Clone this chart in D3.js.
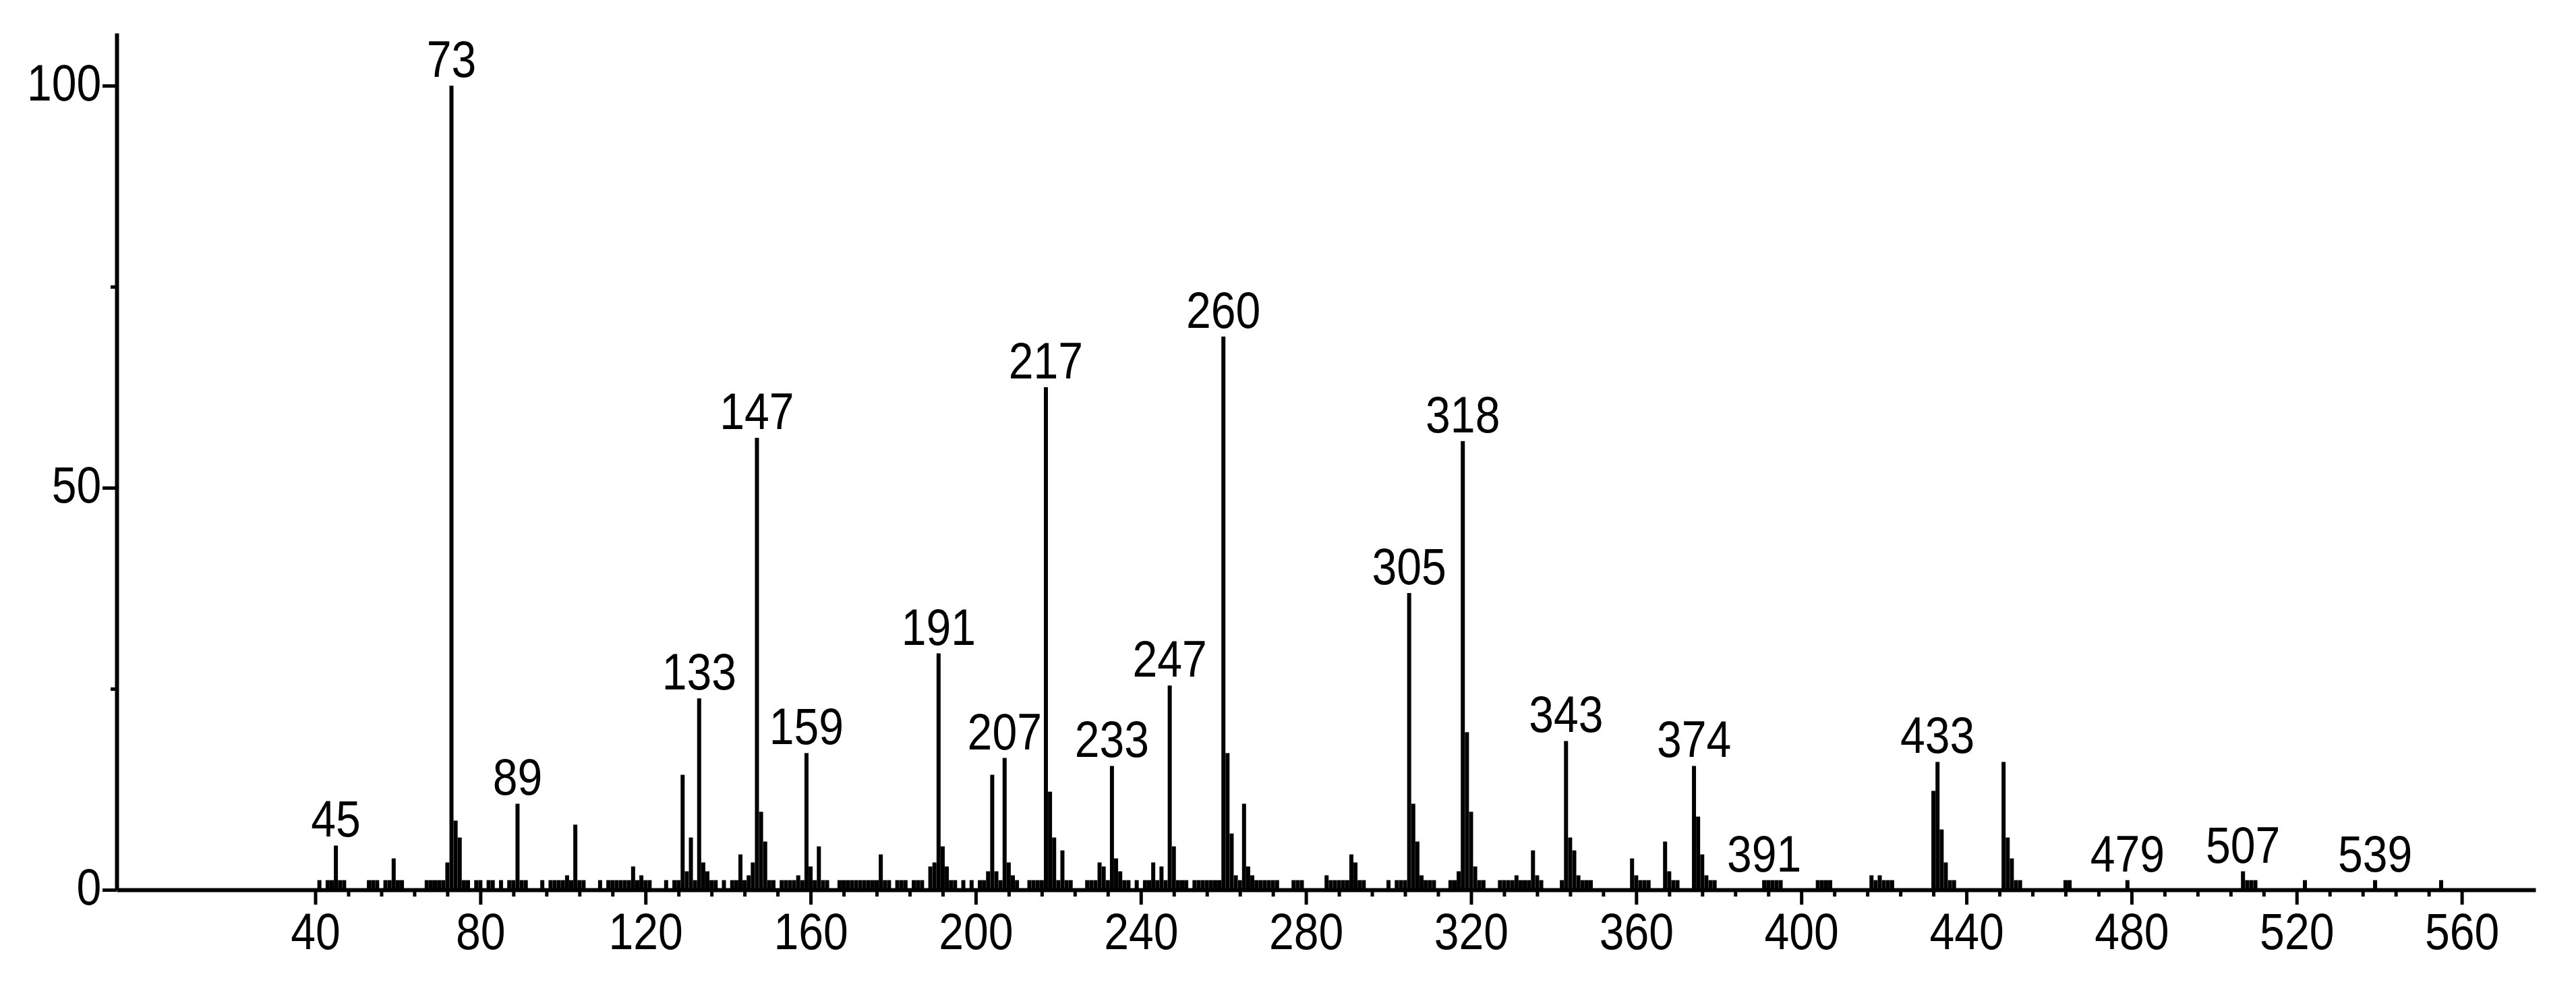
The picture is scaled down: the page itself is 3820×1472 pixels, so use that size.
<!DOCTYPE html>
<html><head><meta charset="utf-8">
<script src="https://cdn.jsdelivr.net/npm/d3@7"></script>
<style>html,body{margin:0;padding:0;background:#fff}</style>
</head><body>
<svg id="chart" width="3820" height="1472"></svg>
<script>
// ---- data (m/z and relative abundance) ----
const masses = [
  41, 43,44,45,46,47, 53,54,55, 57,58,59,60,61,
  67,68,69,70,71,72,73,74,75,76,77, 79,80,82,83,85,
  87,88,89,90,91, 95, 97,98,99,100,101,102,103,104,105, 109,
  111,112,113,114,115,116,117,118,119,120,121, 125,
  127,128,129,130,131,132,133,134,135,136,137, 139,
  141,142,143,144,145,146,147,148,149,150,151,
  153,154,155,156,157,158,159,160,161,162,163,164,
  167,168,169,170,171,172,173,174,175,176,177,178,179,
  181,182,183, 185,186,187, 189,190,191,192,193,194,195, 197,199,
  201,202,203,204,205,206,207,208,209,210,
  213,214,215,216,217,218,219,220,221,222,223,
  227,228,229,230,231,232,233,234,235,236,237, 239,
  241,242,243,244,245,246,247,248,249,250,251,
  253,254,255,256,257,258,259,260,261,262,263,264,265,266,267,268,269,270,271,272,273,
  277,278,279, 285,286,287,288,289,290,291,292,293,294, 300,
  302,303,304,305,306,307,308,309,310,311,
  315,316,317,318,319,320,321,322,323,
  327,328,329,330,331,332,333,334,335,336,337,
  342,343,344,345,346,347,348,349,
  359,360,361,362,363, 367,368,369,370,
  374,375,376,377,378,379,
  391,392,393,394,395, 404,405,406,407,
  417,418,419,420,421,422,
  432,433,434,435,436,437,
  449,450,451,452,453, 464,465, 479,
  507,508,509,510, 522, 539, 555
];
const abundances = [
  1.2, 1.2,1.2,5.5,1.2,1.2, 1.2,1.2,1.2, 1.2,1.2,3.9,1.2,1.2,
  1.2,1.2,1.2,1.2,1.2,3.4,100,8.6,6.5,1.2,1.2, 1.2,1.2,1.2,1.2,1.2,
  1.2,1.2,10.7,1.2,1.2, 1.2, 1.2,1.2,1.2,1.2,1.8,1.2,8.1,1.2,1.2, 1.2,
  1.2,1.2,1.2,1.2,1.2,1.2,2.9,1.2,1.8,1.2,1.2, 1.2,
  1.2,1.2,14.3,2.3,6.5,1.2,23.8,3.4,2.3,1.2,1.2, 1.2,
  1.2,1.2,4.4,1.2,1.8,3.4,56.2,9.7,6.0,1.2,1.2,
  1.2,1.2,1.2,1.2,1.8,1.2,17.0,2.9,1.2,5.4,1.2,1.2,
  1.2,1.2,1.2,1.2,1.2,1.2,1.2,1.2,1.2,1.2,4.4,1.2,1.2,
  1.2,1.2,1.2, 1.2,1.2,1.2, 2.9,3.4,29.4,5.4,2.9,1.2,1.2, 1.2,1.2,
  1.2,1.2,2.3,14.3,2.3,1.2,16.4,3.4,1.8,1.2,
  1.2,1.2,1.2,1.2,62.5,12.2,6.5,1.2,4.9,1.2,1.2,
  1.2,1.2,1.2,3.4,2.9,1.2,15.4,3.9,2.3,1.2,1.2, 1.2,
  1.2,1.2,3.4,1.2,2.9,1.2,25.4,5.4,1.2,1.2,1.2,
  1.2,1.2,1.2,1.2,1.2,1.2,1.2,68.8,17.0,7.0,1.8,1.2,10.7,2.9,1.8,1.2,1.2,1.2,1.2,1.2,1.2,
  1.2,1.2,1.2, 1.8,1.2,1.2,1.2,1.2,1.2,4.4,3.4,1.2,1.2, 1.2,
  1.2,1.2,1.2,36.9,10.7,6.0,1.8,1.2,1.2,1.2,
  1.2,1.2,2.3,55.8,19.6,9.7,2.9,1.2,1.2,
  1.2,1.2,1.2,1.2,1.8,1.2,1.2,1.2,4.9,1.8,1.2,
  1.2,18.5,6.5,4.9,1.8,1.2,1.2,1.2,
  3.9,1.8,1.2,1.2,1.2, 6.0,2.3,1.2,1.2,
  15.4,9.1,4.4,1.8,1.2,1.2,
  1.2,1.2,1.2,1.2,1.2, 1.2,1.2,1.2,1.2,
  1.8,1.2,1.8,1.2,1.2,1.2,
  12.3,15.9,7.5,3.4,1.2,1.2,
  15.9,6.5,3.9,1.2,1.2, 1.2,1.2, 1.2,
  2.3,1.2,1.2,1.2, 1.2, 1.2, 1.2
];
const labelledMasses = [45,73,89,133,147,159,191,207,217,233,247,260,305,318,343,374,391,433,479,507,539];
const xTickLabels = [40,80,120,160,200,240,280,320,360,400,440,480,520,560];
const xMinorTicks = [48,56,64,72,88,96,104,112,128,136,144,152,168,176,184,192,208,216,224,232,
  248,256,264,272,288,296,304,312,328,336,344,352,368,376,384,392,408,416,424,432,
  448,456,464,472,488,496,504,512,528,536,544,552];
const yTickLabels = [0,50,100];
const yMinorTicks = [25,75];

// ---- drawing ----
const FONT = "'Liberation Sans', Arial, sans-serif";
const FS = 76, SX = 0.87;
const peaks = masses.map((m,i)=>({m, v: abundances[i]}));
const byMass = new Map(peaks.map(p=>[p.m,p.v]));

const svg = d3.select('#chart');
svg.append('rect').attr('width',3820).attr('height',1472).attr('fill','#fff');

const x = d3.scaleLinear().domain([-8.11, 577.87]).range([173, 3760]);
const y = d3.scaleLinear().domain([0, 106.54]).range([1319, 49]);

// bars
svg.append('g').selectAll('rect').data(peaks).join('rect')
  .attr('x', d => x(d.m) - 3)
  .attr('width', 6)
  .attr('y', d => y(d.v))
  .attr('height', d => y(0) - y(d.v))
  .attr('fill', '#000');

// x axis
const gx = svg.append('g').attr('transform', `translate(0,${y(0)})`)
  .call(d3.axisBottom(x).tickValues(xTickLabels).tickSize(22).tickSizeOuter(0).tickPadding(12).tickFormat(d3.format('d')));
gx.attr('font-family', FONT).attr('font-size', FS);
gx.select('.domain').attr('stroke', '#000').attr('stroke-width', 6);
gx.selectAll('.tick line').attr('stroke', '#000').attr('stroke-width', 5);
gx.selectAll('.tick text').attr('fill', '#000').attr('transform', `scale(${SX},1)`);

const gxm = svg.append('g').attr('transform', `translate(0,${y(0)})`)
  .call(d3.axisBottom(x).tickValues(xMinorTicks).tickSize(10).tickFormat(''));
gxm.select('.domain').remove();
gxm.selectAll('.tick line').attr('stroke', '#000').attr('stroke-width', 5);

// y axis
const gy = svg.append('g').attr('transform', `translate(${x.range()[0]},0)`)
  .call(d3.axisLeft(y).tickValues(yTickLabels).tickSize(21).tickSizeOuter(0).tickPadding(5));
gy.attr('font-family', FONT).attr('font-size', FS);
gy.select('.domain').attr('stroke', '#000').attr('stroke-width', 6);
gy.selectAll('.tick line').attr('stroke', '#000').attr('stroke-width', 5);
gy.selectAll('.tick text').attr('fill', '#000').attr('dy', '0.28em').attr('transform', `scale(${SX},1)`);

const gym = svg.append('g').attr('transform', `translate(${x.range()[0]},0)`)
  .call(d3.axisLeft(y).tickValues(yMinorTicks).tickSize(9).tickFormat(''));
gym.select('.domain').remove();
gym.selectAll('.tick line').attr('stroke', '#000').attr('stroke-width', 5);

// peak labels
svg.append('g').attr('font-family', FONT).attr('font-size', FS).attr('fill', '#000')
  .selectAll('text').data(labelledMasses).join('text')
  .attr('text-anchor', 'middle')
  .attr('transform', m => `translate(${x(m)},${y(byMass.get(m)) - 13}) scale(${SX},1)`)
  .text(m => m);
</script>
</body></html>
